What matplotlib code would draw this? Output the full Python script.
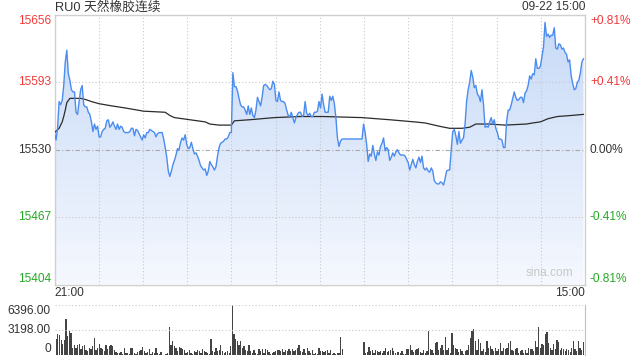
import numpy as np
import matplotlib.pyplot as plt
from matplotlib.colors import LinearSegmentedColormap

# one price per trading minute (night + day session)
price = [
    15546, 15539, 15550, 15575, 15572, 15576, 15590, 15612, 15623, 15601,
    15595, 15586, 15584, 15584, 15565, 15563, 15575, 15586, 15590, 15572,
    15570, 15570, 15565, 15563, 15556, 15547, 15554, 15549, 15552, 15542,
    15542, 15547, 15549, 15550, 15557, 15558, 15551, 15553, 15556, 15552,
    15549, 15554, 15549, 15552, 15551, 15547, 15546, 15546, 15546, 15547,
    15550, 15550, 15543, 15549, 15548, 15545, 15542, 15539, 15544, 15541,
    15546, 15546, 15549, 15548, 15547, 15546, 15542, 15545, 15546, 15546,
    15546, 15540, 15532, 15523, 15510, 15505, 15510, 15516, 15520, 15525,
    15531, 15530, 15537, 15541, 15539, 15544, 15535, 15531, 15532, 15537,
    15531, 15526, 15527, 15524, 15520, 15515, 15513, 15511, 15512, 15506,
    15510, 15519, 15516, 15514, 15511, 15514, 15524, 15532, 15536, 15537,
    15538, 15540, 15540, 15542, 15546, 15546,
    15602, 15589, 15589, 15585,
    15578, 15572, 15570, 15570, 15567, 15563, 15571, 15563, 15569, 15562,
    15560, 15567, 15579, 15575, 15571, 15579, 15590, 15591, 15590, 15588,
    15586, 15587, 15594, 15591, 15576, 15575, 15584, 15576, 15575, 15575,
    15573, 15567, 15562, 15561, 15565, 15560, 15555, 15560, 15563, 15565,
    15565, 15561, 15562, 15575, 15564, 15562, 15564, 15561, 15561, 15565,
    15565, 15566, 15575, 15569, 15582, 15572,
    15565, 15565, 15565, 15580, 15576, 15580, 15573, 15560, 15541, 15533, 15538,
    15540, 15540, 15540, 15540, 15540, 15540, 15540, 15540, 15540, 15540,
    15540, 15540, 15540, 15540,
    15554, 15546, 15535, 15519, 15526, 15524, 15534, 15526, 15520,
    15528, 15525, 15533, 15536, 15541, 15529, 15532, 15530, 15520, 15523,
    15527, 15524, 15528, 15530, 15527, 15525, 15525, 15525, 15524, 15521,
    15518, 15511, 15516, 15521, 15516, 15513, 15519, 15523, 15518, 15524,
    15513, 15511, 15513, 15510, 15509, 15513, 15510, 15501, 15499, 15498,
    15498, 15500, 15499, 15497, 15503, 15510, 15511, 15511, 15530, 15547,
    15549, 15543, 15535, 15547, 15536, 15539, 15541, 15554, 15575, 15586,
    15593, 15604, 15598, 15588, 15590, 15582, 15580, 15575, 15586, 15572,
    15551, 15552, 15551, 15556, 15560, 15554, 15558, 15550, 15546, 15540,
    15540, 15539, 15532, 15532, 15556, 15567, 15567, 15572, 15578, 15584,
    15579, 15576, 15577, 15579, 15579, 15574, 15583, 15585, 15590, 15599,
    15596, 15601, 15600, 15615, 15606, 15606, 15608, 15617, 15626, 15649,
    15636, 15638, 15635, 15637, 15637, 15644, 15625, 15624, 15629, 15628,
    15624, 15625, 15621, 15619, 15612, 15614, 15599, 15592, 15586, 15587,
    15593, 15595, 15602, 15612, 15615,
]

# average price line, read at a few minutes
avg_minute = [0, 3, 5, 6, 7, 8, 10, 17, 20, 22, 24, 29, 37, 46, 58, 72, 75, 78,
              88, 98, 101, 107, 115, 117, 127, 143, 159, 175, 200, 218, 234,
              241, 250, 257, 265, 270, 274, 283, 293, 307, 311, 316, 321, 327,
              336, 344]
avg_price = [15546, 15550, 15556, 15561, 15567, 15574, 15578, 15578, 15577,
             15576, 15575, 15573, 15571, 15569, 15566, 15565, 15562, 15560,
             15558, 15556, 15554, 15553, 15553, 15557, 15558, 15560, 15561,
             15561, 15560, 15558, 15556, 15555, 15552, 15550, 15550, 15551,
             15554, 15554, 15553, 15554, 15555, 15556, 15559, 15561, 15562,
             15563]

volume = [
    4655, 2045, 2697, 2567, 1914, 1392, 1914, 4655, 2480, 3132,
    2784, 957, 1305, 957, 1305, 1392, 740, 1175, 1305, 609,
    522, 957, 740, 1175, 2175, 609, 957, 1392, 957, 740,
    522, 1305, 740, 1175, 1305, 1088, 609, 435, 305, 305,
    435, 174, 957, 305, 305, 174, 957, 957, 305, 87,
    435, 522, 609, 1044, 522, 305, 392, 740, 174, 435,
    305, 957, 305, 174, 392, 20, 10, 87, 305, 3567,
    1305, 1827, 1175, 957, 522, 1044, 957, 740, 609, 305,
    435, 609, 305, 174, 522, 435, 609, 522, 305, 740,
    522, 435, 305, 174, 2045, 522, 435, 870, 522, 609,
    1262, 522, 305, 435, 522, 305, 1175, 6396, 2697, 2045,
    1827, 1305, 1740, 957, 1175, 609, 522, 1262, 522, 305,
    609, 305, 174, 740, 522, 740, 305, 827, 609, 435,
    174, 305, 392, 522, 609, 609, 522, 740, 392, 609,
    522, 740, 522, 827, 522, 609, 957, 1305, 522, 435,
    740, 305, 870, 522, 305, 609, 174, 305, 174, 870,
    522, 522,
    435, 522, 609, 305, 609, 174, 305, 174, 305, 305,
    2349, 740, 20, 40, 40, 40, 40, 40, 40, 40,
    40, 40, 40, 40, 1610, 305, 435, 1044, 522, 609,
    305, 609, 522, 435, 522, 305, 522, 957, 435, 522,
    609, 870, 522, 305, 435, 435, 305, 522, 174, 87,
    740, 740, 1305, 609, 435, 609, 740, 957, 435, 305,
    609, 305, 522, 3132, 740, 609, 305, 1479, 1610, 609,
    957, 1305, 609, 2349, 609, 957, 305, 2784, 1305, 957,
    740, 435, 740, 522, 174, 522, 609, 1305, 2175, 3132,
    3350, 1740, 609, 2045, 1479, 522, 740, 435, 1740, 957,
    1175, 740, 522, 870, 522, 740, 1479, 522, 957, 740,
    870, 1479, 1827, 609, 522, 740, 957, 305, 522, 609,
    305, 609, 305, 870, 740, 740, 522, 1740, 1044, 3567,
    957, 1392, 1305, 2697, 2915, 1479, 957, 609, 1392, 740,
    1914, 1610, 609, 957, 740, 522, 740, 609, 435, 957,
    1827, 740, 522, 1827, 957, 609, 1610,
]

prev_close = 15530
price_ticks = [15404, 15467, 15530, 15593, 15656]
pct_labels = ['-0.81%', '-0.41%', '0.00%', '+0.41%', '+0.81%']
vol_ticks = [0, 3198, 6396]
vol_labels = ['0', '3198.00', '6396.00']
title = 'RU0 天然橡胶连续'
stamp = '09-22 15:00'
time_labels = ['21:00', '15:00']
n_minutes = 345

RED = '#f23a3a'
GREEN = '#25a825'
DARK = '#333333'
GRID = '#c8c8c8'
FS = 8.6

plt.rcParams['font.family'] = ['Liberation Sans', 'Noto Sans CJK SC']

fig = plt.figure(figsize=(6.4, 3.6), dpi=100)

# ---- price panel
ax = fig.add_axes([54.5 / 640, 1 - 284.5 / 360, 530.5 / 640, 269.6 / 360])
x = np.arange(len(price))

poly = ax.fill_between(x, price, price_ticks[0], facecolor='none', edgecolor='none')
grad = np.linspace(0, 1, 256).reshape(-1, 1)
cmap = LinearSegmentedColormap.from_list('fill', ['#f5f8fe', '#c6d9f7'])
im = ax.imshow(grad, extent=[0, n_minutes, price_ticks[0], price_ticks[-1]],
               origin='lower', aspect='auto', cmap=cmap, zorder=1)
im.set_clip_path(poly.get_paths()[0], transform=ax.transData)

for k in range(1, 12):
    ax.axvline(n_minutes / 12 * k, color=GRID, ls=(0, (1, 2)), lw=0.8, zorder=2)
for v in [price_ticks[1], price_ticks[3]]:
    ax.axhline(v, color=GRID, ls=(0, (1, 2)), lw=0.8, zorder=2)
ax.axhline(prev_close, color='#a8a8a8', ls=(0, (4, 2, 1, 2)), lw=0.8, zorder=2)

ax.plot(x, price, color='#4b8cef', lw=1.0, zorder=4)
ax.plot(avg_minute, avg_price, color='#2b2b2b', lw=0.9, zorder=3)

ax.set_xlim(0, n_minutes)
ax.set_ylim(price_ticks[0], price_ticks[-1])
ax.set_xticks([])
ax.set_yticks([])
for s in ax.spines.values():
    s.set_color('#d0d0d0')
    s.set_linewidth(1.0)

ytr = ax.get_yaxis_transform()
for i, (v, p) in enumerate(zip(price_ticks, pct_labels)):
    col = RED if v > prev_close else (GREEN if v < prev_close else DARK)
    va = 'bottom' if i == 0 else ('top' if i == len(price_ticks) - 1 else 'center')
    ax.text(-0.007, v, str(v), transform=ytr, ha='right', va=va, color=col, fontsize=FS)
    ax.text(1.0094, v, p, transform=ytr, ha='left', va=va, color=col, fontsize=FS)

ax.text(0.978, 0.022, 'sina.com', transform=ax.transAxes, ha='right', va='bottom',
        color='#c8c8c8', fontsize=FS)

# ---- volume panel
vax = fig.add_axes([54.5 / 640, 5 / 360, 530.5 / 640, 50 / 360])
vx = np.linspace(0, len(price) - 1, len(volume))
vax.bar(vx, volume, width=0.85, color='#444444', linewidth=0)
vax.axhline(vol_ticks[2], color=GRID, ls=(0, (1, 2)), lw=0.8)
vax.axhline(vol_ticks[1], color=GRID, ls=(0, (1, 2)), lw=0.8)
vax.set_xlim(0, n_minutes)
vax.set_ylim(0, vol_ticks[2])
vax.set_xticks([])
vax.set_yticks([])
for side in ['top', 'left', 'bottom']:
    vax.spines[side].set_visible(False)
vax.spines['right'].set_color('#c0c0c0')

vtr = vax.get_yaxis_transform()
for v, lab, va in zip(vol_ticks, vol_labels, ['bottom', 'center', 'top']):
    vax.text(-0.007, v, lab, transform=vtr, ha='right', va=va, color=DARK, fontsize=FS)

# ---- header / time labels
fig.text(55 / 640, 1 - 7 / 360, title, ha='left', va='center', color=DARK, fontsize=9.2)
fig.text(585 / 640, 1 - 7.5 / 360, stamp, ha='right', va='center', color=DARK, fontsize=FS)
fig.text(54.5 / 640, 1 - 293 / 360, time_labels[0], ha='left', va='center', color=DARK, fontsize=FS)
fig.text(585 / 640, 1 - 293 / 360, time_labels[1], ha='right', va='center', color=DARK, fontsize=FS)

fig.savefig('out.png', dpi=100)
